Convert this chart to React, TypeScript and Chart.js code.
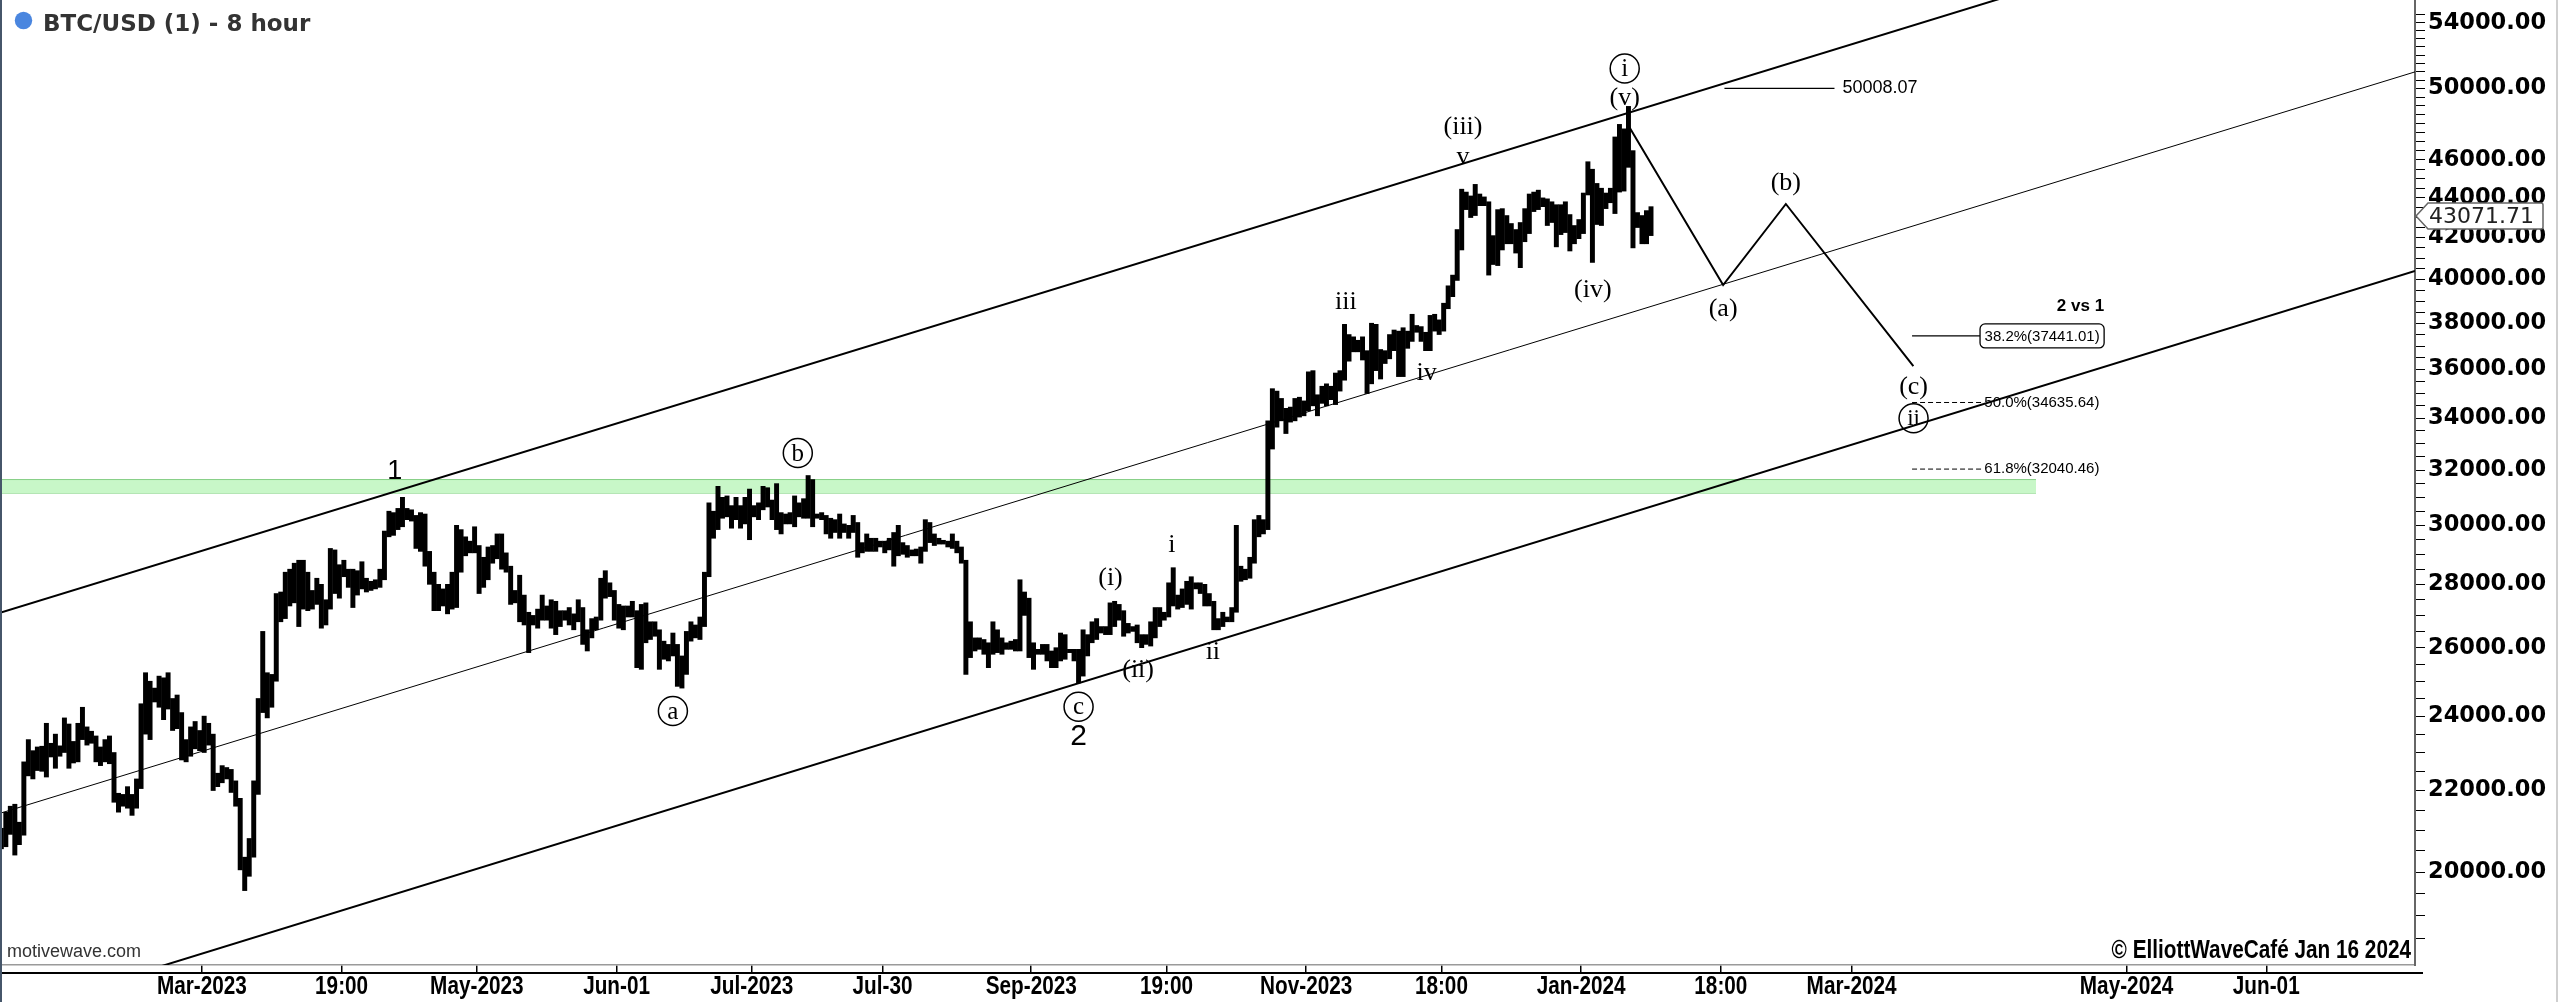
import React, { useEffect, useRef } from 'react';
import { Chart, registerables } from 'chart.js';

Chart.register(...registerables);

// ---------------- DATA ----------------
const chartTitle = 'BTC/USD (1) - 8 hour';
const lastPrice = 43071.71;

// Daily price ranges (low / high), grouped by month blocks
const blockStart = [
  '2023-01-15', '2023-02-01', '2023-03-01', '2023-04-01', '2023-05-01', '2023-06-01', '2023-07-01',
  '2023-08-01', '2023-09-01', '2023-10-01', '2023-11-01', '2023-12-01', '2024-01-01',
];
const dailyLow = [
  [20550, 20600, 20900, 20400, 20650, 20880, 22380, 22300, 22520, 22500, 22350, 22880, 22580, 22900, 23000, 22580, 22720],
  [22750, 23350, 23200, 23250, 22750, 22650, 22750, 22700, 21700, 21450, 21600, 21550, 21370, 21550, 22050, 23500, 23350, 24400, 24250, 23900, 24200, 23600, 23650, 22800, 22750, 22900, 23100, 23050],
  [23000, 23200, 22000, 22100, 22200, 22300, 21950, 21600, 20050, 19570, 19900, 20350, 21900, 24100, 23950, 24250, 25000, 26800, 26900, 27300, 27400, 26650, 27200, 27150, 27200, 27350, 26600, 26700, 27200, 27700, 27550],
  [28250, 27900, 27250, 27650, 27850, 27750, 27800, 27850, 27900, 28150, 29600, 29650, 29850, 29950, 30200, 30150, 29200, 29100, 28600, 28000, 27150, 27150, 27300, 27050, 27200, 27250, 28400, 28950, 29050, 29050],
  [27700, 27900, 28150, 28700, 28850, 28500, 28400, 27350, 27400, 26800, 26700, 25850, 26700, 26600, 26850, 26850, 26600, 26400, 26650, 26850, 26700, 26550, 26800, 26100, 25900, 26300, 26550, 26850, 27550, 27600, 26850],
  [26600, 26550, 26950, 26950, 25400, 25350, 26150, 26250, 26350, 25350, 25650, 25600, 25750, 24850, 24800, 25200, 26200, 26300, 26250, 26650, 28250, 29550, 29850, 30250, 30300, 29900, 30200, 29900, 30050, 29500],
  [30300, 30200, 30550, 30650, 30200, 29850, 29700, 30050, 30050, 29950, 30300, 30250, 30250, 29950, 30250, 30200, 29700, 29550, 29750, 29550, 29750, 29550, 29750, 28900, 29050, 29100, 29100, 29100, 29250, 29050, 29150],
  [28600, 28950, 29000, 28900, 28950, 28950, 28700, 29100, 29400, 29300, 29350, 29350, 29250, 29200, 29050, 28700, 25200, 25700, 25900, 25950, 25800, 25400, 25800, 25850, 25800, 25950, 25950, 25900, 25900, 27000, 25700],
  [25350, 25800, 25800, 25600, 25400, 25400, 25600, 25650, 25850, 25600, 24950, 25150, 25750, 26150, 26250, 26450, 26400, 26400, 26650, 26850, 26350, 26450, 26500, 26150, 26000, 26100, 26050, 26300, 26650, 26850],
  [26950, 27300, 27200, 27250, 27350, 27200, 27850, 27700, 27300, 27300, 26550, 26550, 26650, 26800, 26800, 27100, 28100, 28150, 28200, 28700, 29600, 29700, 29850, 32800, 33650, 33900, 33400, 33850, 33900, 34050, 34100],
  [34300, 34500, 34100, 34600, 34500, 34750, 34550, 35100, 35550, 36350, 36750, 36750, 36400, 35000, 35400, 35950, 35600, 36250, 36450, 36800, 35700, 35700, 36900, 37200, 37600, 37200, 36800, 36800, 37650, 37500],
  [37650, 38650, 39200, 39950, 41400, 43400, 43000, 43100, 43600, 43600, 40200, 40700, 40650, 41400, 41700, 41700, 41250, 40550, 41800, 42200, 43300, 43400, 43550, 42600, 42750, 41550, 42150, 42250, 41350, 41700, 41950],
  [42200, 44150, 40800, 42650, 42600, 43450, 43750, 43200, 44300, 44350, 45600, 41500, 42500, 41700, 41700, 42100],
];
const dailyHigh = [
  [21050, 21450, 21600, 21650, 21200, 22750, 23350, 23050, 23150, 23170, 23800, 23250, 23500, 23180, 23950, 23780, 23300],
  [23800, 24250, 23700, 23580, 23450, 23150, 23350, 23450, 23000, 21930, 21900, 22100, 21900, 22300, 24350, 25250, 25000, 24800, 25150, 25100, 25250, 24500, 24600, 24100, 23350, 23700, 23850, 23600],
  [24000, 23800, 23500, 22450, 22650, 22600, 22550, 22250, 21800, 20350, 20800, 22250, 24500, 26500, 25250, 25200, 27700, 27750, 28400, 28500, 28700, 28800, 28800, 28400, 27800, 28200, 28000, 27500, 29200, 29150, 28650],
  [28800, 28500, 28500, 28450, 28750, 28200, 28100, 28150, 28500, 29800, 30500, 30450, 30600, 31000, 30600, 30550, 30350, 30450, 30400, 29100, 28400, 28000, 27850, 28000, 28400, 30000, 29850, 29600, 29450, 29950],
  [29300, 28900, 29250, 29300, 29700, 29700, 29050, 28600, 27800, 28300, 27650, 27100, 27000, 27200, 27650, 27300, 27500, 27450, 27150, 27150, 27250, 27050, 27500, 27250, 26550, 26900, 26950, 28200, 28450, 28050, 27800],
  [27350, 27300, 27300, 27450, 27150, 27350, 27400, 26800, 26800, 26550, 26200, 26100, 26450, 26100, 25750, 26500, 26800, 26700, 26950, 28400, 30800, 30500, 31400, 31000, 31050, 30700, 31000, 30700, 31000, 31300],
  [30700, 30800, 31400, 31350, 30900, 31500, 30450, 30400, 30450, 31050, 30800, 30950, 31800, 31650, 30400, 30450, 30350, 30250, 30200, 30400, 30050, 30000, 30350, 30100, 29400, 29700, 29550, 29550, 29450, 29450, 29550],
  [29750, 30000, 29400, 29300, 29150, 29180, 29250, 30200, 30100, 29700, 29550, 29480, 29450, 29700, 29450, 29250, 28800, 26800, 26300, 26300, 26250, 26150, 26800, 26550, 26300, 26150, 26200, 26250, 28150, 27750, 27550],
  [26150, 25950, 26100, 26100, 25900, 26000, 26450, 26400, 25950, 25950, 25950, 26550, 26400, 26800, 26900, 26650, 26650, 27400, 27450, 27350, 27150, 26750, 26650, 26700, 26400, 26400, 26800, 27250, 27250, 27100],
  [28050, 28550, 27650, 27850, 28100, 28250, 28050, 28050, 28000, 27700, 27450, 26900, 27100, 26950, 27250, 30000, 28600, 28500, 28900, 30200, 30350, 30200, 33900, 35200, 35100, 34800, 34400, 34450, 34800, 34850, 34700],
  [35900, 35950, 34950, 35300, 35400, 35300, 35850, 35950, 37950, 37500, 37400, 37250, 37400, 36800, 38000, 37950, 36850, 36800, 37500, 37700, 37650, 37800, 37650, 38400, 37900, 37850, 37600, 38350, 38400, 38150],
  [38900, 39700, 40200, 42400, 44450, 44300, 44100, 44700, 44200, 44050, 43800, 42100, 43400, 43450, 43100, 42700, 42400, 42750, 43450, 44200, 44300, 44400, 44000, 43950, 43800, 43650, 43650, 43800, 43150, 42600, 42900],
  [44250, 45900, 45500, 44750, 44500, 44250, 44500, 47250, 47950, 47700, 48970, 46500, 43250, 43100, 43350, 43550],
];

// Axes
const xRange = ['2023-01-15 05', '2024-07-04 00'];
const yRange = [17939, 55458];
const xTickDates = ['2023-03-01', '2023-04-01', '2023-05-01', '2023-06-01', '2023-07-01', '2023-07-30', '2023-09-01', '2023-10-01', '2023-11-01', '2023-12-01', '2024-01-01', '2024-02-01', '2024-03-01', '2024-05-01', '2024-06-01'];
const xTickLabels = ['Mar-2023', '19:00', 'May-2023', 'Jun-01', 'Jul-2023', 'Jul-30', 'Sep-2023', '19:00', 'Nov-2023', '18:00', 'Jan-2024', '18:00', 'Mar-2024', 'May-2024', 'Jun-01'];
const yTickLabelled = [20000, 22000, 24000, 26000, 28000, 30000, 32000, 34000, 36000, 38000, 40000, 42000, 44000, 46000, 50000, 54000];
const yMinorRange = [18500, 54500, 500];

// Channel lines [date, value]
const channelUpper: [string, number][] = [['2023-01-15 05', 27086], ['2024-07-04 00', 64464]];
const channelMiddle: [string, number][] = [['2023-01-15 05', 21421], ['2024-07-04 00', 50986]];
const channelLower: [string, number][] = [['2023-01-15 05', 16902], ['2024-07-04 00', 40390]];

// Projection zigzag
const projectionDates = ['2024-01-11 10', '2024-02-01 12', '2024-02-15 10', '2024-03-14 17'];
const projectionValues = [47915, 39738, 43686, 36143];

// Fibonacci targets
const fibNames = ['38.2%', '50.0%', '61.8%'];
const fibLevels = [37441.01, 34635.64, 32040.46];
const fibFrom = '2024-03-14 10';
const fibTo = ['2024-03-29 12', '2024-03-30 00', '2024-03-30 00'];
const fibTitle = '2 vs 1';
const fibTitleValue = 38770;
const targetLevel = 50008.07;
const targetFrom = '2024-02-01 19';
const targetTo = '2024-02-26 05';

// Resistance band
const bandLow = 31150;
const bandHigh = 31650;
const bandFrom = '2023-01-15 05';
const bandTo = '2024-04-10 22';

// Wave labels
const serifText = ['(i)', 'i', '(ii)', 'ii', 'iii', 'iv', 'v', '(iii)', '(iv)', '(v)', '(a)', '(b)', '(c)'];
const serifAt = ['2023-09-18 14', '2023-10-02 05', '2023-09-24 17', '2023-10-11 07', '2023-11-09 19', '2023-11-27 17', '2023-12-05 19', '2023-12-05 19', '2024-01-03 14', '2024-01-10 16', '2024-02-01 12', '2024-02-15 10', '2024-03-14 18'];
const serifValue = [28198, 29317, 25330, 25879, 38970, 35836, 46170, 47820, 39506, 49430, 38626, 44756, 35279];
const circledText = ['a', 'b', 'c', 'i', 'ii'];
const circledAt = ['2023-06-13 12', '2023-07-11 05', '2023-09-11 12', '2024-01-10 16', '2024-03-14 18'];
const circledValue = [24145, 32650, 24267, 51193, 34000];
const degreeText = ['1', '2'];
const degreeAt = ['2023-04-12 19', '2023-09-11 12'];
const degreeValue = [31940, 23430];
const degreeSize = [27, 30];

const copyrightText = '\u00A9 ElliottWaveCaf\u00E9 Jan 16 2024';
const sourceText = 'motivewave.com';

// ---------------- HELPERS ----------------
const EPOCH = Date.UTC(2023, 2, 1);
function dayOf(s: string): number {
  const [d, t] = s.split(' ');
  const [Y, M, D] = d.split('-').map(Number);
  const h = t ? Number(t) : 0;
  return (Date.UTC(Y, M - 1, D, h) - EPOCH) / 86400000;
}
const xTickDays = xTickDates.map(dayOf);
const seg = (pts: [string, number][]) => pts.map(([d, v]) => ({ x: dayOf(d), y: v }));

const SERIF = '"Liberation Serif", "Times New Roman", serif';
const SANS = '"Liberation Sans", Arial, sans-serif';
const VERDANA = '"DejaVu Sans", Verdana, sans-serif';
const NARROW_SCALE = 0.83;

function narrowText(ctx: CanvasRenderingContext2D, s: string, x: number, y: number, align: CanvasTextAlign) {
  ctx.save();
  ctx.translate(x, y);
  ctx.scale(NARROW_SCALE, 1);
  ctx.textAlign = align;
  ctx.textBaseline = 'middle';
  ctx.fillText(s, 0, 0);
  ctx.restore();
}

const overlayPlugin = {
  id: 'overlay',
  afterDraw(chart: any) {
    const ctx: CanvasRenderingContext2D = chart.ctx;
    const xs = chart.scales.x;
    const ys = chart.scales.y;
    const ca = chart.chartArea;
    const px = (s: string) => xs.getPixelForValue(dayOf(s));
    const py = (v: number) => ys.getPixelForValue(v);
    ctx.save();
    ctx.fillStyle = '#000';
    ctx.strokeStyle = '#000';
    ctx.textBaseline = 'middle';

    // target label
    ctx.font = `18px ${SANS}`;
    ctx.textAlign = 'left';
    ctx.fillText(targetLevel.toFixed(2), px(targetTo) + 8, py(targetLevel));

    // fib labels
    ctx.font = `15px ${SANS}`;
    let boxRight = 0;
    fibLevels.forEach((lv, i) => {
      const x0 = px(fibTo[i]);
      const y0 = py(lv);
      const label = `${fibNames[i]}(${lv.toFixed(2)})`;
      const w = ctx.measureText(label).width;
      if (i === 0) {
        const bx = x0, bw = w + 9, bh = 24, by = y0 - bh / 2;
        boxRight = bx + bw;
        ctx.beginPath();
        ctx.lineWidth = 1.3;
        (ctx as any).roundRect(bx, by, bw, bh, 5);
        ctx.fillStyle = '#fff';
        ctx.fill();
        ctx.stroke();
        ctx.fillStyle = '#000';
        ctx.fillText(label, x0 + 4.5, y0 + 1);
      } else {
        ctx.fillText(label, x0 + 2, y0);
      }
    });
    ctx.font = `bold 17px ${SANS}`;
    ctx.textAlign = 'right';
    ctx.fillText(fibTitle, boxRight, py(fibTitleValue));

    // wave labels
    ctx.textAlign = 'center';
    ctx.font = `26px ${SERIF}`;
    serifText.forEach((t, i) => ctx.fillText(t, px(serifAt[i]), py(serifValue[i])));
    circledText.forEach((t, i) => {
      const cx = px(circledAt[i]);
      const cy = py(circledValue[i]);
      ctx.beginPath();
      ctx.lineWidth = 1.5;
      ctx.arc(cx, cy, 14.5, 0, Math.PI * 2);
      ctx.stroke();
      ctx.font = `${t.length > 1 ? 23 : 25}px ${SERIF}`;
      ctx.fillText(t, cx, cy + 1);
    });
    degreeText.forEach((t, i) => {
      ctx.font = `${degreeSize[i]}px ${SANS}`;
      ctx.fillText(t, px(degreeAt[i]), py(degreeValue[i]));
    });

    // title
    ctx.beginPath();
    ctx.fillStyle = '#4a86df';
    ctx.arc(23.5, 20.5, 8.7, 0, Math.PI * 2);
    ctx.fill();
    ctx.fillStyle = '#333';
    ctx.textAlign = 'left';
    ctx.textBaseline = 'alphabetic';
    ctx.font = `bold 23px ${VERDANA}`;
    ctx.fillText(chartTitle, 43, 31);

    // footer texts
    ctx.textBaseline = 'middle';
    ctx.font = `18px ${SANS}`;
    ctx.fillStyle = '#333';
    ctx.fillText(sourceText, 7, 952);
    ctx.font = `bold 25px ${SANS}`;
    ctx.fillStyle = '#000';
    narrowText(ctx, copyrightText, ca.right - 4, 951, 'right');

    // x tick labels (condensed bold), positioned by the x scale
    xTickDays.forEach((d, i) => narrowText(ctx, xTickLabels[i], xs.getPixelForValue(d), ca.bottom + 22, 'center'));

    // line under x ticks
    ctx.beginPath();
    ctx.lineWidth = 2;
    ctx.strokeStyle = '#000';
    ctx.moveTo(0, ca.bottom + 8);
    ctx.lineTo(ca.right + 8, ca.bottom + 8);
    ctx.stroke();

    // last price box
    const yp = py(lastPrice);
    const bx0 = ca.right + 1, bx1 = ca.right + 13, bx2 = ca.right + 128, h2 = 13;
    ctx.beginPath();
    ctx.moveTo(bx0, yp);
    ctx.lineTo(bx1, yp - h2);
    ctx.lineTo(bx2 - 2, yp - h2);
    ctx.quadraticCurveTo(bx2, yp - h2, bx2, yp - h2 + 2);
    ctx.lineTo(bx2, yp + h2 - 2);
    ctx.quadraticCurveTo(bx2, yp + h2, bx2 - 2, yp + h2);
    ctx.lineTo(bx1, yp + h2);
    ctx.closePath();
    ctx.fillStyle = '#fff';
    ctx.fill();
    ctx.lineWidth = 1.5;
    ctx.strokeStyle = '#666';
    ctx.stroke();
    ctx.fillStyle = '#222';
    ctx.textAlign = 'left';
    ctx.font = `22px ${VERDANA}`;
    ctx.fillText(lastPrice.toFixed(2), bx1 + 1, yp + 1);

    // frame borders
    ctx.fillStyle = '#46566a';
    ctx.fillRect(0, 0, 2, chart.height);
    ctx.fillStyle = '#cfcfcf';
    ctx.fillRect(chart.width - 2, 0, 2, chart.height);
    ctx.restore();
  },
};

export default function App() {
  const ref = useRef<HTMLCanvasElement>(null);
  useEffect(() => {
    const bars: { x: number; y: [number, number] }[] = [];
    blockStart.forEach((s, b) => {
      const d0 = dayOf(s);
      dailyLow[b].forEach((lo, i) => bars.push({ x: d0 + i + 0.5, y: [lo, dailyHigh[b][i]] }));
    });
    const yMinor: number[] = [];
    for (let v = yMinorRange[0]; v <= yMinorRange[1]; v += yMinorRange[2]) yMinor.push(v);

    const lineDs = (data: any[], width: number, extra: any = {}) => ({
      type: 'line',
      data,
      borderColor: '#000',
      borderWidth: width,
      pointRadius: 0,
      fill: false,
      tension: 0,
      order: 0,
      ...extra,
    });

    const chart = new Chart(ref.current as HTMLCanvasElement, {
      type: 'bar',
      data: {
        datasets: [
          lineDs([{ x: dayOf(bandFrom), y: bandHigh }, { x: dayOf(bandTo), y: bandHigh }], 1, {
            borderColor: '#86cf86', backgroundColor: '#c8f7c8', fill: '+1', order: 5,
          }),
          lineDs([{ x: dayOf(bandFrom), y: bandLow }, { x: dayOf(bandTo), y: bandLow }], 1, {
            borderColor: '#86cf86', order: 5,
          }),
          {
            type: 'bar',
            data: bars,
            backgroundColor: '#000',
            borderWidth: 0,
            barThickness: 4.3,
            order: 2,
          },
          lineDs(seg(channelUpper), 2),
          lineDs(seg(channelMiddle), 1),
          lineDs(seg(channelLower), 2),
          lineDs(projectionDates.map((d, i) => ({ x: dayOf(d), y: projectionValues[i] })), 2),
          lineDs([{ x: dayOf(targetFrom), y: targetLevel }, { x: dayOf(targetTo), y: targetLevel }], 1.3),
          ...fibLevels.map((lv, i) =>
            lineDs([{ x: dayOf(fibFrom), y: lv }, { x: dayOf(fibTo[i]), y: lv }], i === 0 ? 1.3 : 1, i === 0 ? {} : { borderDash: [5, 3] })
          ),
        ] as any,
      },
      options: {
        responsive: false,
        animation: false,
        devicePixelRatio: 1,
        events: [],
        layout: { padding: 0 },
        plugins: { legend: { display: false }, tooltip: { enabled: false }, title: { display: false } },
        scales: {
          x: {
            type: 'linear',
            min: dayOf(xRange[0]),
            max: dayOf(xRange[1]),
            offset: false,
            grid: { display: true, drawOnChartArea: false, drawTicks: true, tickLength: 8, color: '#000', lineWidth: 1.5, offset: false },
            border: { display: true, color: '#9a9a9a', width: 1.5 },
            ticks: { display: false, autoSkip: false, maxRotation: 0, minRotation: 0 },
            afterBuildTicks: (s: any) => {
              s.ticks = xTickDays.map((v) => ({ value: v }));
            },
            afterFit: (s: any) => {
              s.height = 37;
              s.paddingLeft = 0;
              s.paddingRight = 0;
            },
          },
          y: {
            type: 'logarithmic',
            position: 'right',
            min: yRange[0],
            max: yRange[1],
            grid: { display: true, drawOnChartArea: false, drawTicks: true, tickLength: 10, color: '#000', lineWidth: 1 },
            border: { display: true, color: '#666', width: 2 },
            ticks: {
              autoSkip: false,
              padding: 3,
              color: '#000',
              font: { family: VERDANA, size: 22.5, weight: 'bold' },
              callback: (v: any) => (yTickLabelled.includes(Number(v)) ? Number(v).toFixed(2) : ''),
            },
            afterBuildTicks: (s: any) => {
              s.ticks = yMinor.map((v) => ({ value: v }));
            },
            afterFit: (s: any) => {
              s.width = 143;
              s.paddingTop = 0;
              s.paddingBottom = 0;
            },
          },
        },
      } as any,
      plugins: [overlayPlugin],
    } as any);
    return () => chart.destroy();
  }, []);

  return (
    <div style={{ position: 'absolute', left: 0, top: 0, width: 2558, height: 1002, background: '#fff' }}>
      <canvas ref={ref} width={2558} height={1002} style={{ display: 'block', width: 2558, height: 1002 }} />
    </div>
  );
}
